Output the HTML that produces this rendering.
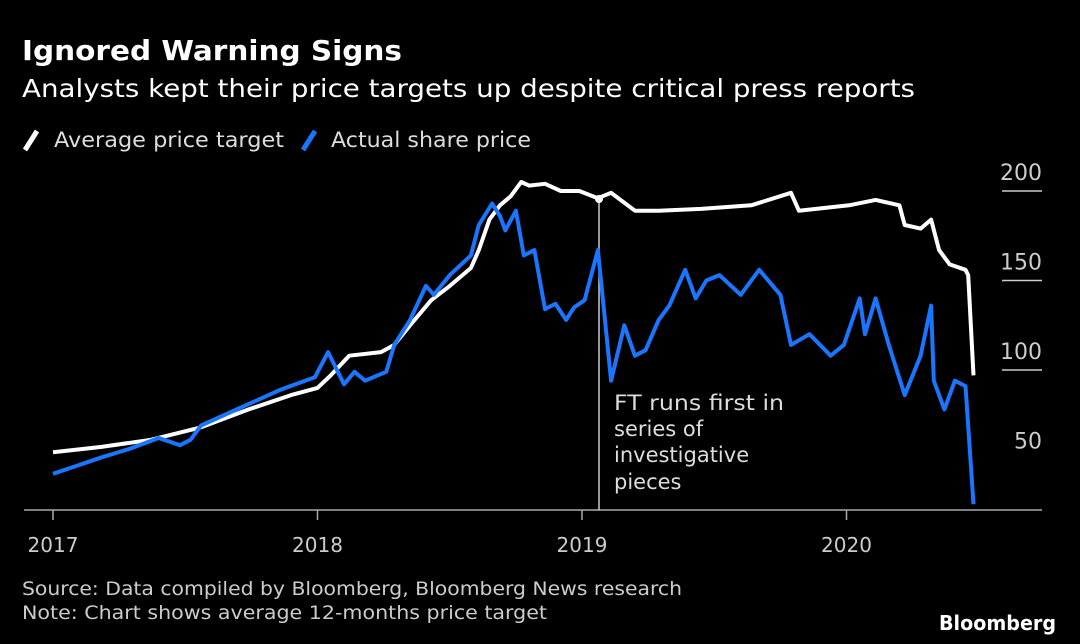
<!DOCTYPE html>
<html><head><meta charset="utf-8">
<style>
body{margin:0;background:#000;width:1080px;height:644px;overflow:hidden;font-family:"DejaVu Sans","Liberation Sans",sans-serif;color:#fff}
svg{position:absolute;left:0;top:0;font-family:"DejaVu Sans","Liberation Sans",sans-serif}
</style></head>
<body>
<svg width="1080" height="644">
<text x="22" y="60" font-size="28" font-weight="bold" fill="#fff" textLength="380" lengthAdjust="spacingAndGlyphs">Ignored Warning Signs</text>
<text x="22" y="97" font-size="25" fill="#fff" textLength="893" lengthAdjust="spacingAndGlyphs">Analysts kept their price targets up despite critical press reports</text>
<g>
<line x1="25" y1="150" x2="37" y2="131" stroke="#fff" stroke-width="5"/>
<text x="54" y="147" font-size="21" fill="#ddd" textLength="230" lengthAdjust="spacingAndGlyphs">Average price target</text>
<line x1="303" y1="150" x2="315" y2="131" stroke="#1a75ff" stroke-width="5"/>
<text x="331" y="147" font-size="21" fill="#ddd" textLength="200" lengthAdjust="spacingAndGlyphs">Actual share price</text>
</g>
<g id="grid"></g>
<line x1="24" y1="510" x2="1042" y2="510" stroke="#aaa" stroke-width="1.5"/>
<g id="xticks"></g>
<line x1="599" y1="198" x2="599" y2="510" stroke="#ccc" stroke-width="1.5"/>
<circle cx="599" cy="199" r="4" fill="#fff"/>
<g id="series"></g>
<text font-size="21" fill="#ddd">
<tspan x="614" y="410" textLength="170" lengthAdjust="spacingAndGlyphs">FT runs first in</tspan><tspan x="614" y="436">series of</tspan><tspan x="614" y="462">investigative</tspan><tspan x="614" y="489">pieces</tspan></text>
<text x="22" y="595" font-size="19" fill="#ccc" textLength="660" lengthAdjust="spacingAndGlyphs">Source: Data compiled by Bloomberg, Bloomberg News research</text>
<text x="22" y="619" font-size="19" fill="#ccc" textLength="525" lengthAdjust="spacingAndGlyphs">Note: Chart shows average 12-months price target</text>
<text x="1056" y="630" font-size="20" font-weight="bold" fill="#fff" text-anchor="end" textLength="117" lengthAdjust="spacingAndGlyphs">Bloomberg</text>
</svg>
<script>
const yTicks=[200,150,100,50];
const xTickLabels=["2017","2018","2019","2020"];
const targetDates=[0,.18,.37,.56,.74,.90,1.0,1.05,1.12,1.24,1.29,1.35,1.43,1.50,1.58,1.61,1.65,1.69,1.73,1.77,1.80,1.86,1.92,1.99,2.06,2.11,2.20,2.29,2.45,2.64,2.79,2.82,3.01,3.11,3.20,3.22,3.28,3.32,3.35,3.39,3.45,3.46,3.48];
const targetValues=[54,57,61,68,78,86,90,97,108,110,114,125,139,147,157,167,184,192,197,205,203,204,200,200,196,199,189,189,190,192,199,189,192,195,192,181,179,184,167,159,156,153,97];
const priceDates=[0,.10,.18,.29,.40,.48,.52,.56,.71,.86,.99,1.04,1.10,1.14,1.18,1.26,1.29,1.35,1.41,1.44,1.50,1.58,1.61,1.66,1.69,1.71,1.75,1.78,1.82,1.86,1.90,1.94,1.97,2.01,2.06,2.11,2.16,2.20,2.24,2.29,2.33,2.39,2.43,2.47,2.52,2.60,2.67,2.75,2.79,2.86,2.94,2.99,3.05,3.07,3.11,3.16,3.22,3.28,3.32,3.33,3.37,3.41,3.45,3.48];
const priceValues=[42,47,51,56,62,58,61,69,79,89,96,110,92,99,94,99,114,128,147,142,153,164,181,193,186,178,189,164,167,134,137,128,135,139,167,94,125,108,111,128,136,156,140,150,153,142,156,142,114,120,108,114,140,120,140,114,86,108,136,94,78,94,91,25];
const NS="http://www.w3.org/2000/svg";
const X=t=>53+t*264.5;
const Y=v=>370-(v-100)*1.79;
const grid=document.getElementById('grid');
yTicks.forEach(v=>{
  const t=document.createElementNS(NS,'text');
  t.setAttribute('x',1042);t.setAttribute('y',Y(v)-11);t.setAttribute('text-anchor','end');
  t.setAttribute('font-size','22');t.setAttribute('fill','#ccc');t.textContent=v;
  
  
  grid.appendChild(t);
  if(v>50){
    const l=document.createElementNS(NS,'line');
    l.setAttribute('x1',1002);l.setAttribute('x2',1042);l.setAttribute('y1',Y(v));l.setAttribute('y2',Y(v));
    l.setAttribute('stroke','#ccc');l.setAttribute('stroke-width','1.5');
    
    
    grid.appendChild(l);
  }
});
const xt=document.getElementById('xticks');
xTickLabels.forEach((s,i)=>{
  const l=document.createElementNS(NS,'line');
  l.setAttribute('x1',X(i));l.setAttribute('x2',X(i));l.setAttribute('y1',510);l.setAttribute('y2',520);
  l.setAttribute('stroke','#aaa');l.setAttribute('stroke-width','1.5');
  
  
  xt.appendChild(l);
  const t=document.createElementNS(NS,'text');
  t.setAttribute('x',X(i));t.setAttribute('y',552);t.setAttribute('text-anchor','middle');
  t.setAttribute('font-size','20');t.setAttribute('fill','#ccc');t.textContent=s;
  
  
  xt.appendChild(t);
});
const ser=document.getElementById('series');
function draw(d,v,c,name){
  const p=document.createElementNS(NS,'path');
  p.setAttribute('d',d.map((t,i)=>(i?'L':'M')+X(t).toFixed(1)+','+Y(v[i]).toFixed(1)).join(''));
  p.setAttribute('fill','none');p.setAttribute('stroke',c);p.setAttribute('stroke-width','4');
  p.setAttribute('stroke-linejoin','round');
  
  
  ser.appendChild(p);
}
draw(targetDates,targetValues,'#fff','target-line');
draw(priceDates,priceValues,'#1a75ff','price-line');
</script>
</body></html>
